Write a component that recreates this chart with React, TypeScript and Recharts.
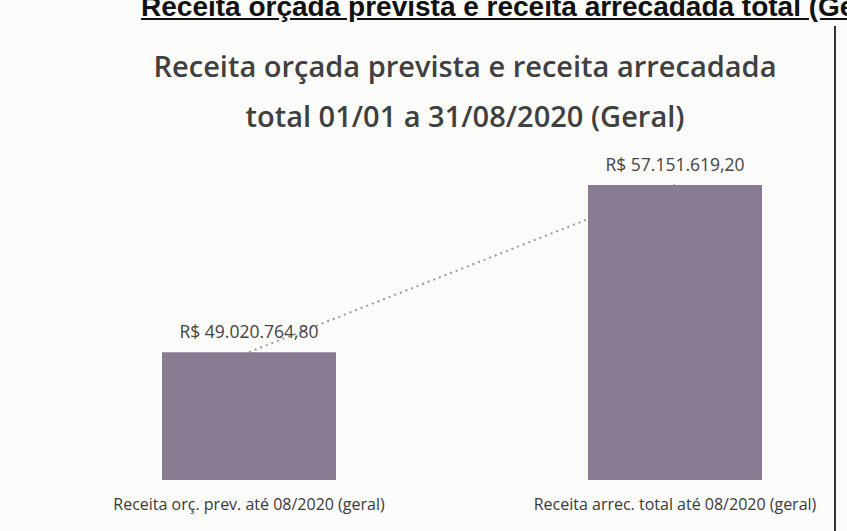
import React, { useEffect } from "react";
import { ComposedChart, Bar, Line, XAxis, YAxis, LabelList } from "recharts";

const categorias = [
  "Receita orç. prev. até 08/2020 (geral)",
  "Receita arrec. total até 08/2020 (geral)",
];
const valores = [49020764.8, 57151619.2];

const data = categorias.map((nome, i) => ({ nome, valor: valores[i] }));

function brl(v: number) {
  const [int, dec] = v.toFixed(2).split(".");
  return "R$ " + int.replace(/\B(?=(\d{3})+(?!\d))/g, ".") + "," + dec;
}

const CategoryTick = (props: any) => {
  const { x, y, payload } = props;
  return (
    <text x={x} y={y} dy={22} textAnchor="middle" fontSize={16} fill="#3a3a3a">
      {payload.value}
    </text>
  );
};

const chartProps = {
  width: 900,
  height: 531,
  data,
  margin: { top: 147, right: 12, left: 36, bottom: 11 },
};

const layer: React.CSSProperties = { position: "absolute", top: 0, left: 0 };

export default function App() {
  useEffect(() => {
    document.body.style.margin = "0";
  }, []);

  return (
    <div
      style={{
        position: "relative",
        width: 847,
        height: 531,
        overflow: "hidden",
        background: "#fbfbf9",
        fontFamily: "'Open Sans', sans-serif",
      }}
    >
      {/* cabeçalho do documento, cortado no topo */}
      <div
        style={{
          position: "absolute",
          top: -9,
          right: -52,
          whiteSpace: "nowrap",
          fontFamily: "'Liberation Sans', Arial, sans-serif",
          fontWeight: 700,
          fontSize: 28,
          lineHeight: "32px",
          color: "#111",
          textDecoration: "underline",
        }}
      >
        Receita orçada prevista e receita arrecadada total (Geral)
      </div>
      <div
        style={{
          position: "absolute",
          left: 834,
          top: 26,
          width: 2,
          height: 510,
          background: "#333",
        }}
      />
      <div
        style={{
          position: "absolute",
          top: 41,
          left: 0,
          width: 930,
          textAlign: "center",
          fontSize: 29,
          lineHeight: "50px",
          color: "#404040",
          fontWeight: 600,
        }}
      >
        Receita orçada prevista e receita arrecadada
        <br />
        total 01/01 a 31/08/2020 (Geral)
      </div>
      {/* linha de tendência atrás das barras */}
      <div style={layer}>
        <ComposedChart {...chartProps}>
          <XAxis dataKey="nome" axisLine={false} tickLine={false} tick={false} height={40} />
          <YAxis hide domain={[42800000, 59000000]} allowDataOverflow />
          <Bar dataKey="valor" fill="none" barSize={174} isAnimationActive={false} />
          <Line
            dataKey="valor"
            stroke="#9a9a9a"
            strokeWidth={2}
            strokeDasharray="2 4"
            dot={false}
            isAnimationActive={false}
          />
        </ComposedChart>
      </div>
      <div style={layer}>
        <ComposedChart {...chartProps}>
          <XAxis
            dataKey="nome"
            axisLine={false}
            tickLine={false}
            height={40}
            interval={0}
            tick={<CategoryTick />}
          />
          <YAxis hide domain={[42800000, 59000000]} allowDataOverflow />
          <Bar dataKey="valor" fill="#887b92" barSize={174} isAnimationActive={false}>
            <LabelList
              dataKey="valor"
              position="top"
              offset={14}
              formatter={(v: any) => brl(Number(v))}
              style={{ fontSize: 17.5, fill: "#444" }}
            />
          </Bar>
        </ComposedChart>
      </div>
    </div>
  );
}
